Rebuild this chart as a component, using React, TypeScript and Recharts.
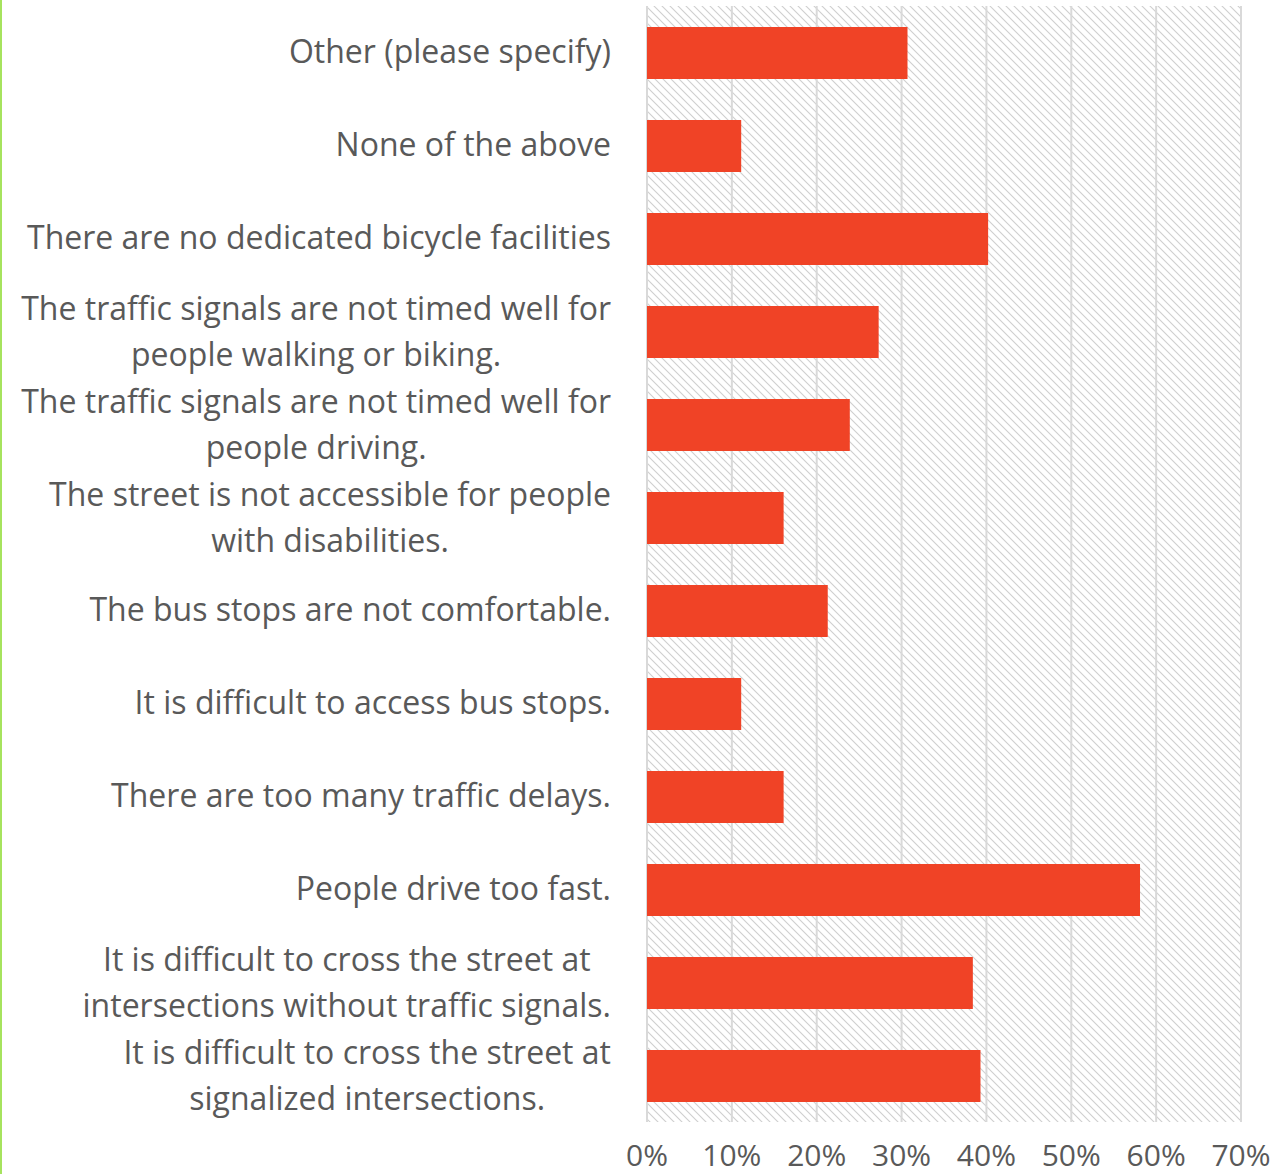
import { BarChart, Bar, XAxis, YAxis, CartesianGrid } from "recharts";

const categories = [
  "Other (please specify)",
  "None of the above",
  "There are no dedicated bicycle facilities",
  "The traffic signals are not timed well for|people walking or biking.",
  "The traffic signals are not timed well for|people driving.",
  "The street is not accessible for people|with disabilities.",
  "The bus stops are not comfortable.",
  "It is difficult to access bus stops.",
  "There are too many traffic delays.",
  "People drive too fast.",
  "It is difficult to cross the street at|intersections without traffic signals.",
  "It is difficult to cross the street at|signalized intersections.",
];

const shares = [0.307, 0.111, 0.402, 0.273, 0.239, 0.161, 0.213, 0.111, 0.161, 0.581, 0.384, 0.393];

const xTicks = [0, 0.1, 0.2, 0.3, 0.4, 0.5, 0.6, 0.7];

const data = categories.map((name, i) => ({ name, value: shares[i] }));

const FONT = "'Open Sans', sans-serif";
const LABEL_SIZE = 32;
const LABEL_RIGHT = 611;

let ctx: CanvasRenderingContext2D | null = null;
const measure = (s: string) => {
  if (!ctx) ctx = document.createElement("canvas").getContext("2d");
  if (!ctx) return s.length * LABEL_SIZE * 0.5;
  ctx.font = `${LABEL_SIZE}px ${FONT}`;
  return ctx.measureText(s).width;
};

const CategoryTick = ({ y, payload }: any) => {
  const lines: string[] = String(payload.value).split("|");
  if (lines.length === 1) {
    return (
      <text x={LABEL_RIGHT} y={y - 2} textAnchor="end" dominantBaseline="central"
        fill="#595959" fontSize={LABEL_SIZE} fontFamily={FONT}>
        {lines[0]}
      </text>
    );
  }
  // lines centred inside a block that is right-aligned to the axis
  const w = Math.max(...lines.map(measure));
  const cx = LABEL_RIGHT - w / 2;
  return (
    <text x={cx} y={y} textAnchor="middle" dominantBaseline="central"
      fill="#595959" fontSize={LABEL_SIZE} fontFamily={FONT}>
      {lines.map((l, i) => (
        <tspan key={i} x={cx} y={y - 2 + (i - (lines.length - 1) / 2) * 46}>{l}</tspan>
      ))}
    </text>
  );
};

export default function App() {
  return (
    <div style={{ position: "absolute", left: 0, top: 0, width: 1288, height: 1174, background: "#fff" }}>
      <div style={{ position: "absolute", left: 0, top: 0, width: 2, height: 1174, background: "#a6e35e" }} />
      <BarChart
        width={1288}
        height={1174}
        data={data}
        layout="vertical"
        margin={{ top: 6, right: 47, bottom: 0, left: 0 }}
        barSize={52}
      >
        <defs>
          <pattern id="hatch" width="8" height="8" patternUnits="userSpaceOnUse">
            <rect width="8" height="8" fill="#ffffff" />
            <path d="M-2,-2 L10,10 M-2,6 L2,10 M6,-2 L10,2" stroke="#cfcfcf" strokeWidth="1.1" />
          </pattern>
        </defs>
        <CartesianGrid horizontal={false} stroke="#d9d9d9" strokeWidth={2} fill="url(#hatch)" fillOpacity={1} />
        <XAxis
          type="number"
          domain={[0, 0.7]}
          ticks={xTicks}
          tickFormatter={(v: number) => `${Math.round(v * 100)}%`}
          axisLine={false}
          tickLine={false}
          tickSize={0}
          tickMargin={23}
          height={52}
          interval={0}
          tick={{ fill: "#595959", fontSize: 30, fontFamily: FONT }}
        />
        <YAxis
          type="category"
          dataKey="name"
          width={647}
          axisLine={false}
          tickLine={false}
          interval={0}
          tick={<CategoryTick />}
        />
        <Bar dataKey="value" fill="#f04326" isAnimationActive={false} />
      </BarChart>
    </div>
  );
}
